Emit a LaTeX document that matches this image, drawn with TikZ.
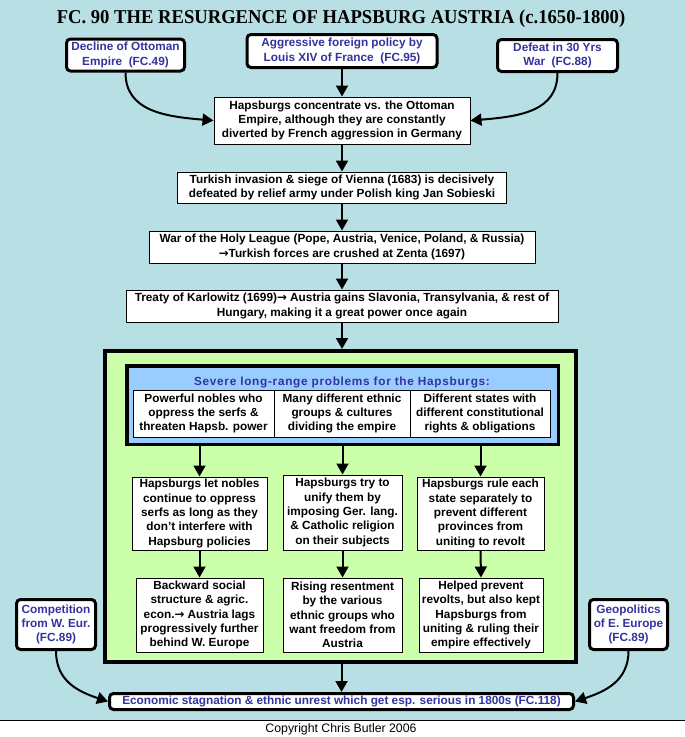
\documentclass[tikz,border=0pt]{standalone}
\usepackage{fontspec}
\setmainfont{Liberation Sans}
\newfontfamily\titlefont{Liberation Serif}
\newfontfamily\arrowfont{DejaVu Sans}
\newfontfamily\spacedfont[LetterSpace=6]{Liberation Sans}
\newcommand\myarr{{\arrowfont\bfseries\char"2192}}
\usetikzlibrary{arrows.meta}
\definecolor{bgc}{RGB}{184,224,228}
\definecolor{greenc}{RGB}{204,255,170}
\definecolor{bluec}{RGB}{153,204,255}
\definecolor{txtblue}{RGB}{51,51,160}
\begin{document}
\begin{tikzpicture}[x=1pt,y=-1pt,
  txt/.style={font=\bfseries\fontsize{11.8}{14.3}\selectfont, align=center, inner sep=0pt},
  plainbox/.style={txt, draw=black, line width=1pt, fill=white},
  refbox/.style={txt, draw=black, line width=3pt, fill=white, rounded corners=4pt, text=txtblue},
  arr/.style={-{Triangle[width=12pt,length=11pt]}, line width=2pt},
]
\useasboundingbox (0,0) rectangle (685,737);
\fill[bgc] (0,0) rectangle (685,720);
\fill[white] (0,720) rectangle (685,737);
\draw[line width=1pt] (0,720) -- (685,720);

\node[font=\titlefont\bfseries\fontsize{19.6}{22}\selectfont, inner sep=0pt, anchor=base] (title) at (341,23)
  {\scalebox{0.95}[1]{FC. 90 THE RESURGENCE OF HAPSBURG AUSTRIA (c.1650-1800)}};

% top row
\node[refbox, minimum width=118pt, minimum height=32pt] (dec) at (125.5,55) {Decline of Ottoman\\Empire~~(FC.49)};
\node[refbox, minimum width=190pt, minimum height=33pt] (agg) at (342,51) {Aggressive foreign policy by\\Louis XIV of France~~(FC.95)};
\node[refbox, minimum width=120pt, minimum height=32pt] (def) at (557.5,55.5) {Defeat in 30 Yrs\\War~~(FC.88)};

\node[plainbox, minimum width=256pt, minimum height=47pt] (hc) at (342,120.5)
  {Hapsburgs concentrate vs. the Ottoman\\Empire, although they are constantly\\diverted by French aggression in Germany};
\node[plainbox, minimum width=329pt, minimum height=31pt] (tur) at (342,187.5)
  {Turkish invasion \& siege of Vienna (1683) is decisively\\defeated by relief army under Polish king Jan Sobieski};
\node[plainbox, minimum width=386pt, minimum height=32pt] (war) at (342,247)
  {War of the Holy League (Pope, Austria, Venice, Poland, \& Russia)\\\myarr{}Turkish forces are crushed at Zenta (1697)};
\node[plainbox, minimum width=432pt, minimum height=32pt] (tre) at (342,306)
  {Treaty of Karlowitz (1699)\myarr{} Austria gains Slavonia, Transylvania, \& rest of\\Hungary, making it a great power once again};

% green frame
\node[draw=black, line width=4pt, fill=greenc, minimum width=471pt, minimum height=311pt, inner sep=0pt] (green) at (340.5,506.5) {};
\node[draw=black, line width=3.5pt, fill=bluec, minimum width=431.5pt, minimum height=78.5pt, inner sep=0pt] (blue) at (342.5,405) {};
\node[txt, text=txtblue, font=\spacedfont\bfseries\fontsize{11.8}{14.3}\selectfont] (btitle) at (342,382) {Severe long-range problems for the Hapsburgs:};
\node[plainbox, minimum width=141pt, minimum height=47pt] (c1) at (203.5,413.5) {Powerful nobles who\\oppress the serfs \&\\threaten Hapsb. power};
\node[plainbox, minimum width=136pt, minimum height=47pt] (c2) at (342,413.5) {Many different ethnic\\groups \& cultures\\dividing the empire};
\node[plainbox, minimum width=140pt, minimum height=47pt] (c3) at (480,413.5) {Different states with\\different constitutional\\rights \& obligations};

\node[plainbox, minimum width=135pt, minimum height=73pt] (l2a) at (199.5,513.5) {Hapsburgs let nobles\\continue to oppress\\serfs as long as they\\don't interfere with\\Hapsburg policies};
\node[plainbox, minimum width=119pt, minimum height=75pt] (l2b) at (342.5,512.5) {Hapsburgs try to\\unify them by\\imposing Ger. lang.\\\& Catholic religion\\on their subjects};
\node[plainbox, minimum width=127pt, minimum height=73pt] (l2c) at (480.5,513.5) {Hapsburgs rule each\\state separately to\\prevent different\\provinces from\\uniting to revolt};

\node[plainbox, minimum width=127pt, minimum height=74pt] (l3a) at (199.5,615) {Backward social\\structure \& agric.\\econ.\myarr{} Austria lags\\progressively further\\behind W. Europe};
\node[plainbox, minimum width=119pt, minimum height=74pt] (l3b) at (342.5,615) {Rising resentment\\by the various\\ethnic groups who\\want freedom from\\Austria};
\node[plainbox, minimum width=124pt, minimum height=74pt] (l3c) at (481,615) {Helped prevent\\revolts, but also kept\\Hapsburgs from\\uniting \& ruling their\\empire effectively};

% bottom
\node[refbox, minimum width=79pt, minimum height=50pt] (comp) at (56,624.5) {Competition\\from W. Eur.\\(FC.89)};
\node[refbox, minimum width=78pt, minimum height=50pt] (geo) at (628.5,624.5) {Geopolitics\\of E. Europe\\(FC.89)};
\node[refbox, minimum width=464pt, minimum height=16pt] (eco) at (341.5,701.5) {Economic stagnation \& ethnic unrest which get esp. serious in 1800s (FC.118)};

\node[font=\fontsize{12.3}{14}\selectfont, inner sep=0pt, anchor=base] (copy) at (341,732) {Copyright Chris Butler 2006};

% arrows
\draw[arr] (dec.south) .. controls +(0,38) and +(-50,-4) .. (hc.west);
\draw[arr] (def.south) .. controls +(0,38) and +(50,-4) .. (hc.east);
\draw[arr] (agg.south) -- (hc.north);
\draw[arr] (hc.south) -- (tur.north);
\draw[arr] (tur.south) -- (war.north);
\draw[arr] (war.south) -- (tre.north);
\draw[arr] (tre.south) -- (tre.south |- green.north);
\draw[arr] (blue.south -| l2a.north) -- (l2a.north);
\draw[arr] (blue.south -| l2b.north) -- (l2b.north);
\draw[arr] (blue.south -| l2c.north) -- (l2c.north);
\draw[arr] (l2a.south) -- (l3a.north);
\draw[arr] (l2b.south) -- (l3b.north);
\draw[arr] (l2c.south) -- (l3c.north);
\draw[arr] (eco.north |- green.south) -- (eco.north);
\draw[arr] (comp.south) .. controls +(0,30) and +(-30,-10) .. (eco.west);
\draw[arr] (geo.south) .. controls +(0,30) and +(30,-10) .. (eco.east);
\end{tikzpicture}
\end{document}
